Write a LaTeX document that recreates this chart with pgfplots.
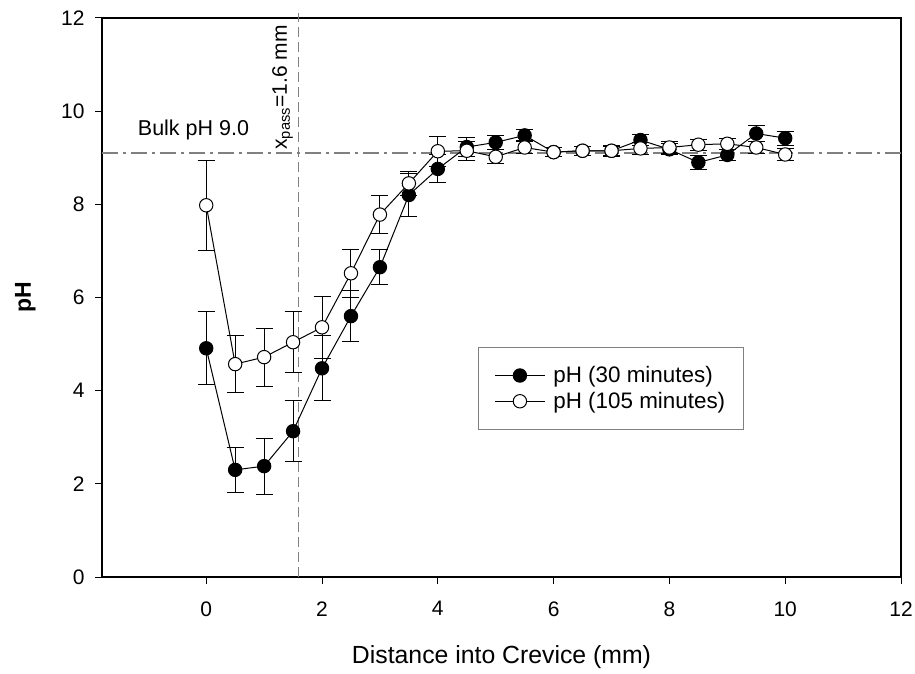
\documentclass[border=0pt]{standalone}
\usepackage{pgfplots}
\pgfplotsset{compat=1.18}
\usepackage{fontspec}
\setmainfont{Liberation Sans}
\begin{document}
\begin{tikzpicture}
\pgfplotstableread{
x y e
0 4.91 0.78
0.5 2.30 0.48
1 2.38 0.60
1.5 3.13 0.65
2 4.48 0.70
2.5 5.60 0.55
3 6.65 0.38
3.5 8.20 0.47
4 8.76 0.30
4.5 9.23 0.20
5 9.33 0.15
5.5 9.48 0.12
6 9.12 0.10
6.5 9.15 0.10
7 9.15 0.10
7.5 9.38 0.12
8 9.18 0.12
8.5 8.90 0.15
9 9.06 0.12
9.5 9.52 0.18
10 9.42 0.15
}\thirty
\pgfplotstableread{
x y e
0 7.98 0.97
0.5 4.57 0.62
1 4.72 0.62
1.5 5.04 0.66
2 5.36 0.67
2.5 6.52 0.52
3 7.78 0.40
3.5 8.45 0.25
4 9.14 0.32
4.5 9.15 0.20
5 9.02 0.15
5.5 9.22 0.12
6 9.12 0.10
6.5 9.15 0.10
7 9.15 0.12
7.5 9.20 0.12
8 9.22 0.12
8.5 9.28 0.12
9 9.30 0.12
9.5 9.22 0.12
10 9.07 0.12
}\hundredfive
\begin{axis}[
  at={(102pt,96pt)}, anchor=south west,
  scale only axis, width=799pt, height=559pt,
  xmin=-1.8, xmax=12, ymin=0, ymax=12,
  xtick={0,2,...,12}, ytick={0,2,...,12},
  tick pos=left, tick align=outside,
  major tick length=7pt,
  axis line style={line width=1.3pt},
  every tick/.style={black, line width=1pt},
  /pgf/number format/assume math mode=true,
  tick label style={font=\fontsize{21}{25}\selectfont},
  xticklabel style={yshift=-14pt},
  yticklabel style={xshift=-7pt},
  xlabel={Distance into Crevice (mm)},
  xlabel style={font=\fontsize{24.8}{29}\selectfont, at={(axis description cs:0.5,-0.143)}, anchor=center},
  ylabel={\textbf{pH}},
  ylabel style={font=\fontsize{23}{27}\selectfont, at={(axis description cs:-0.096,0.5)}, anchor=center},
  legend style={at={(0.4706,0.411)}, anchor=north west, draw=gray, line width=0.8pt,
    font=\fontsize{22.4}{26}\selectfont, row sep=4pt, inner xsep=16pt, inner ysep=17pt},
  legend cell align=left,
  legend image code/.code={\draw[mark repeat=2,mark phase=2,#1] plot coordinates {(0pt,0pt) (25pt,0pt) (50pt,0pt)}; \path (56pt,0pt);},
  clip=false,
]
\addplot[gray, line width=1.3pt, dash pattern=on 16pt off 5pt on 3pt off 5pt, forget plot] coordinates {(-1.8,9.1) (12,9.1)};
\addplot[gray, line width=1pt, dash pattern=on 10pt off 5pt, forget plot] coordinates {(1.6,0) (1.6,12.1)};
\addplot[black, line width=1pt, mark=*, mark size=6.7pt, mark options={fill=black, line width=1pt},
  error bars/.cd, y dir=both, y explicit, error bar style={line width=1pt, black}, error mark options={line width=1pt, mark size=8.5pt, rotate=90}]
  table[x=x, y=y, y error=e] {\thirty};
\addlegendentry{pH (30 minutes)}
\addplot[black, line width=1pt, mark=*, mark size=6.7pt, mark options={fill=white, line width=1pt},
  error bars/.cd, y dir=both, y explicit, error bar style={line width=1pt, black}, error mark options={line width=1pt, mark size=8.5pt, rotate=90}]
  table[x=x, y=y, y error=e] {\hundredfive};
\addlegendentry{pH (105 minutes)}
\node[font=\fontsize{21.5}{25}\selectfont, anchor=center] at (axis cs:-0.22,9.6) {Bulk pH 9.0};
\node[font=\fontsize{21}{25}\selectfont, rotate=90, anchor=south west, inner sep=1pt] at (axis cs:1.52,9.15) {x\textsubscript{pass}=1.6 mm};
\end{axis}
\pgfresetboundingbox
\useasboundingbox (0,0) rectangle (915pt,673pt);
\end{tikzpicture}
\end{document}
